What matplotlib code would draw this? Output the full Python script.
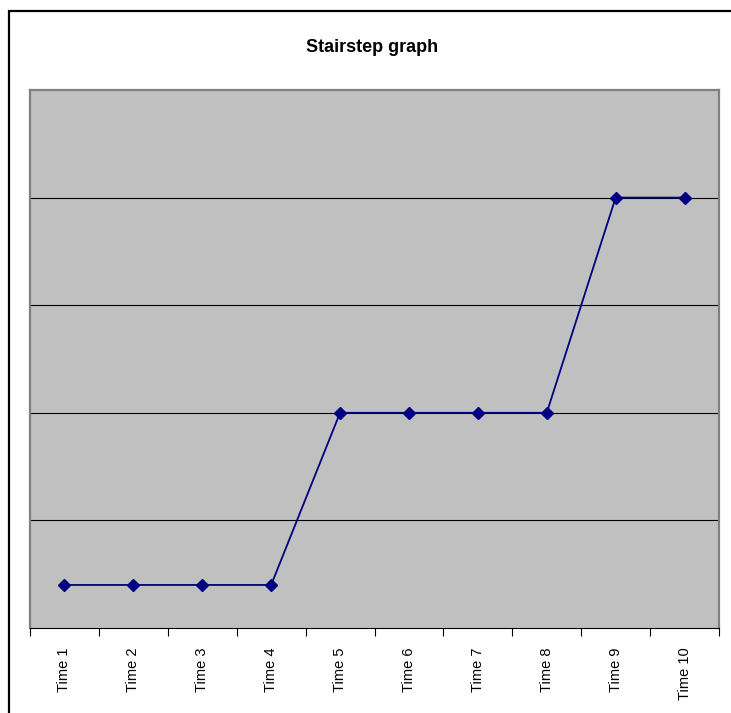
import matplotlib.pyplot as plt
from matplotlib.patches import Rectangle

categories = ["Time 1", "Time 2", "Time 3", "Time 4", "Time 5",
              "Time 6", "Time 7", "Time 8", "Time 9", "Time 10"]
values = [0.4, 0.4, 0.4, 0.4, 2, 2, 2, 2, 4, 4]

plt.rcParams['font.family'] = ['Liberation Sans', 'DejaVu Sans']

fig = plt.figure(figsize=(7.31, 7.13), dpi=100)
W, H = 731, 713

# chart frame (runs off the right/bottom edge like the original)
fig.patches.append(Rectangle((8.5 / W, -0.1), 1.0, (H - 11.5) / H + 0.1,
                             transform=fig.transFigure, fill=False,
                             edgecolor='black', linewidth=1.6))

ax = fig.add_axes([30 / W, (H - 628) / H, 689 / W, 538 / H])
ax.set_facecolor('#C0C0C0')

x = [i + 0.5 for i in range(len(categories))]
ax.plot(x, values, color='#000080', linewidth=1.3, marker='D',
        markersize=6.5, zorder=3)

ax.set_xlim(0, len(categories))
ax.set_ylim(0, 5)
for yv in [1, 2, 3, 4]:
    ax.axhline(yv, color='black', linewidth=0.8, zorder=1)

ax.set_yticks([])
ax.set_xticks(range(len(categories) + 1))
ax.set_xticklabels([])
ax.tick_params(axis='x', which='major', length=6, width=0.8, direction='out')
ax.set_xticks(x, minor=True)
ax.set_xticklabels(categories, minor=True, rotation=90, fontsize=10.5)
ax.tick_params(axis='x', which='minor', length=0, pad=14)

for s in ['left', 'top', 'right']:
    ax.spines[s].set_color('#808080')
    ax.spines[s].set_linewidth(1.6)
ax.spines['bottom'].set_color('black')
ax.spines['bottom'].set_linewidth(0.8)

fig.text(372 / W, 1 - 47 / H, "Stairstep graph", ha='center', va='center',
         fontsize=13, fontweight='bold')

plt.savefig('out.png', dpi=100)
